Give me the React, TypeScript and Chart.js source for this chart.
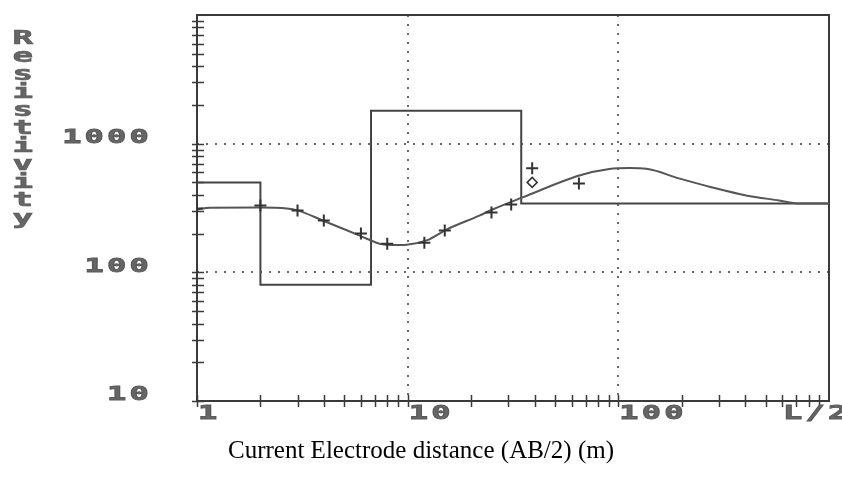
import React, { useEffect, useRef } from 'react';
import { Chart, registerables } from 'chart.js';

Chart.register(...registerables);

// Layered model (step line): start of each layer (AB/2) and its resistivity
const layerStart = [1, 2, 6.7, 34.6, 1000];
const layerRho = [500, 80, 1800, 343, 343];

// Calculated sounding curve
const curveX = [1, 1.15, 2, 2.67, 3, 3.95, 5.92, 7.36, 8.5, 9.89, 12.3, 15.3, 21.9, 25.3, 35.1, 65.3, 90.6, 113, 136, 194, 279, 404, 580, 721, 1000];
const curveRho = [308, 318, 319, 314, 303, 253, 193, 167, 163, 164, 177, 215, 276, 308, 382, 566, 636, 646, 638, 537, 457, 396, 362, 343, 343];

// Observed apparent resistivities (+)
const obsX = [1, 2, 3, 4, 6, 8, 12, 15, 25, 31, 39, 65];
const obsRho = [313, 331, 303, 253, 200, 167, 170, 211, 292, 337, 643, 491];

// Extra observed point (diamond)
const diamondX = [39];
const diamondRho = [500];

const xTickValues = [1, 10, 100, 1000];
const xTickLabels = ['1', '10', '100', 'L/2'];
const yTickValues = [10, 100, 1000];
const yTickLabels = ['10', '100', '1000'];
const xGridValues = [10, 100];
const yGridValues = [100, 1000];
const xDecades = [1, 10, 100];
const yDecades = [10, 100, 1000];

const yTitle = 'Resistivity';
const xTitle = 'Current Electrode distance (AB/2) (m)';

const LABEL_FONT = 'bold 20px "DejaVu Sans Mono", monospace';
const TITLE_FONT = 'bold 19px "DejaVu Sans Mono", monospace';
const LABEL_COLOR = '#666666';
const FRAME_COLOR = '#3a3a3a';

function drawWide(ctx: CanvasRenderingContext2D, text: string, x: number, y: number, align: CanvasTextAlign) {
  ctx.save();
  ctx.font = LABEL_FONT;
  ctx.fillStyle = LABEL_COLOR;
  ctx.strokeStyle = '#5a5a5a';
  ctx.lineWidth = 0.9;
  ctx.textBaseline = 'middle';
  (ctx as any).letterSpacing = '2px';
  ctx.translate(x, y);
  ctx.scale(1.6, 1);
  ctx.textAlign = align;
  ctx.fillText(text, 0, 0);
  ctx.strokeText(text, 0, 0);
  ctx.restore();
}

const framePlugin = {
  id: 'framePlugin',
  beforeDatasetsDraw(chart: any) {
    const { ctx, chartArea: a, scales } = chart;
    const xs = scales.x;
    const ys = scales.y;
    ctx.save();
    ctx.strokeStyle = FRAME_COLOR;
    ctx.lineWidth = 2;
    ctx.strokeRect(a.left, a.top, a.right - a.left, a.bottom - a.top);
    ctx.lineWidth = 1.5;
    ctx.beginPath();
    for (const d of xDecades) {
      for (let k = 1; k <= 9; k++) {
        const px = Math.round(xs.getPixelForValue(k * d)) + 0.5;
        ctx.moveTo(px, a.bottom - 6);
        ctx.lineTo(px, a.bottom + 6);
      }
    }
    for (const d of yDecades) {
      for (let k = 1; k <= 9; k++) {
        const py = Math.round(ys.getPixelForValue(k * d)) + 0.5;
        ctx.moveTo(a.left - 5, py);
        ctx.lineTo(a.left + 7, py);
      }
    }
    ctx.stroke();
    ctx.restore();
  },
  afterDraw(chart: any) {
    const { ctx, chartArea: a, scales } = chart;
    const xs = scales.x;
    const ys = scales.y;
    yTickValues.forEach((v, i) => {
      drawWide(ctx, yTickLabels[i], 152, ys.getPixelForValue(v) - 6, 'right');
    });
    xTickValues.forEach((v, i) => {
      const px = xs.getPixelForValue(v);
      const last = i === xTickValues.length - 1;
      drawWide(ctx, xTickLabels[i], last ? px - 46 : px + 1, a.bottom + 13, 'left');
    });
  },
};

export default function App() {
  const ref = useRef<HTMLCanvasElement | null>(null);

  useEffect(() => {
    if (!ref.current) return;
    const modelData = layerStart.map((x, i) => ({ x, y: layerRho[i] }));
    const curveData = curveX.map((x, i) => ({ x, y: curveRho[i] }));
    const obsData = obsX.map((x, i) => ({ x, y: obsRho[i] }));
    const diaData = diamondX.map((x, i) => ({ x, y: diamondRho[i] }));

    const chart = new Chart(ref.current, {
      type: 'scatter',
      data: {
        datasets: [
          {
            label: 'Model',
            data: modelData,
            showLine: true,
            stepped: 'before',
            borderColor: '#444444',
            borderWidth: 2,
            pointRadius: 0,
            fill: false,
            order: 3,
          } as any,
          {
            label: 'Calculated',
            data: curveData,
            showLine: true,
            cubicInterpolationMode: 'monotone',
            borderColor: '#555555',
            borderWidth: 2,
            pointRadius: 0,
            fill: false,
            order: 2,
          } as any,
          {
            label: 'Observed',
            data: obsData,
            pointStyle: 'cross',
            pointRadius: 6,
            borderColor: '#333333',
            borderWidth: 2,
            backgroundColor: 'rgba(0,0,0,0)',
            order: 1,
          },
          {
            label: 'Observed 2',
            data: diaData,
            pointStyle: 'rectRot',
            pointRadius: 5,
            borderColor: '#333333',
            borderWidth: 1.5,
            backgroundColor: 'rgba(255,255,255,0)',
            order: 1,
          },
        ],
      },
      options: {
        animation: false,
        responsive: false,
        devicePixelRatio: 1,
        layout: { padding: { top: 15, right: 13, left: 0, bottom: 0 } },
        plugins: {
          legend: { display: false },
          tooltip: { enabled: false },
          title: { display: false },
        },
        scales: {
          x: {
            type: 'logarithmic',
            min: 1,
            max: 1000,
            afterBuildTicks: (s: any) => {
              s.ticks = xGridValues.map((v) => ({ value: v }));
            },
            afterFit: (s: any) => {
              s.height = 95;
            },
            ticks: { display: false },
            grid: {
              display: true,
              drawTicks: false,
              color: '#6a6a6a',
              lineWidth: 2,
            },
            border: { display: false, dash: [2, 7] },
          },
          y: {
            type: 'logarithmic',
            min: 10,
            max: 10000,
            afterBuildTicks: (s: any) => {
              s.ticks = yGridValues.map((v) => ({ value: v }));
            },
            afterFit: (s: any) => {
              s.width = 197;
            },
            ticks: { display: false },
            grid: {
              display: true,
              drawTicks: false,
              color: '#6a6a6a',
              lineWidth: 2,
            },
            border: { display: false, dash: [2, 7] },
          },
        },
      } as any,
      plugins: [framePlugin],
    });
    return () => chart.destroy();
  }, []);

  return (
    <div style={{ position: 'absolute', left: 0, top: 0, width: 842, height: 496, background: '#ffffff', overflow: 'hidden' }}>
      <canvas ref={ref} width={842} height={496} style={{ display: 'block', width: 842, height: 496 }} />
      <div
        style={{
          position: 'absolute',
          left: 12,
          top: 26,
          writingMode: 'vertical-lr',
          textOrientation: 'upright',
          font: TITLE_FONT,
          color: LABEL_COLOR,
          letterSpacing: '-4px',
          transform: 'scaleX(1.8)',
          transformOrigin: 'left top',
          lineHeight: '12px',
          WebkitTextStroke: '0.6px #5a5a5a',
        } as any}
      >
        {yTitle}
      </div>
      <div
        style={{
          position: 'absolute',
          left: 0,
          width: 842,
          top: 436,
          textAlign: 'center',
          fontFamily: '"Liberation Serif", "Times New Roman", serif',
          fontSize: 25,
          color: '#000000',
          whiteSpace: 'nowrap',
        }}
      >
        {xTitle}
      </div>
    </div>
  );
}
